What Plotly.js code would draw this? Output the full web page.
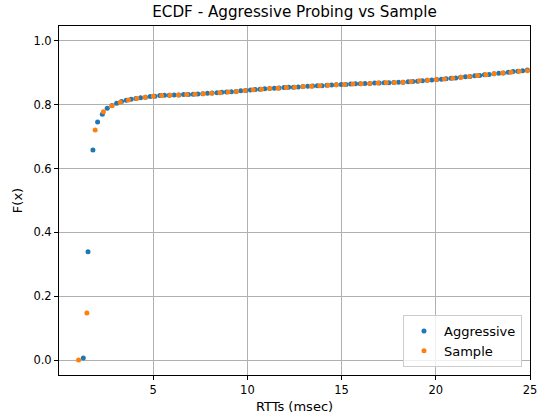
<!DOCTYPE html>
<html>
<head>
<meta charset="utf-8">
<script src="https://cdn.plot.ly/plotly-3.0.1.min.js"></script>
<style>html,body{margin:0;padding:0;background:#fff}#chart{width:544px;height:419px}</style>
</head>
<body>
<div id="chart"></div>
<script>
var aggressiveX = [1.29,1.54,1.80,2.05,2.30,2.56,2.81,3.06,3.32,3.57,3.83,4.08,4.33,4.59,4.84,5.09,5.35,5.60,5.85,6.11,6.36,6.61,6.87,7.12,7.37,7.63,7.88,8.13,8.39,8.64,8.89,9.15,9.40,9.65,9.91,10.16,10.42,10.67,10.92,11.18,11.43,11.68,11.94,12.19,12.44,12.70,12.95,13.20,13.46,13.71,13.96,14.22,14.47,14.72,14.98,15.23,15.48,15.74,15.99,16.24,16.50,16.75,17.00,17.26,17.51,17.77,18.02,18.27,18.53,18.78,19.03,19.29,19.54,19.79,20.05,20.30,20.55,20.81,21.06,21.31,21.57,21.82,22.07,22.33,22.58,22.83,23.09,23.34,23.59,23.85,24.10,24.35,24.61,24.86];
var aggressiveY = [0.006,0.339,0.658,0.746,0.770,0.789,0.798,0.805,0.810,0.814,0.817,0.820,0.822,0.824,0.826,0.827,0.829,0.830,0.830,0.831,0.831,0.832,0.832,0.833,0.834,0.835,0.836,0.837,0.838,0.839,0.840,0.841,0.842,0.844,0.845,0.846,0.848,0.849,0.850,0.851,0.852,0.853,0.854,0.855,0.855,0.856,0.857,0.858,0.859,0.860,0.860,0.861,0.862,0.863,0.864,0.864,0.865,0.866,0.866,0.867,0.867,0.868,0.868,0.869,0.869,0.870,0.871,0.871,0.872,0.873,0.874,0.875,0.877,0.878,0.879,0.880,0.882,0.883,0.884,0.886,0.888,0.889,0.891,0.892,0.894,0.895,0.897,0.899,0.900,0.902,0.904,0.905,0.907,0.909];
var sampleX = [1.04,1.48,1.92,2.36,2.81,3.25,3.69,4.13,4.57,5.01,5.45,5.89,6.34,6.78,7.22,7.66,8.10,8.54,8.98,9.42,9.87,10.31,10.75,11.19,11.63,12.07,12.51,12.96,13.40,13.84,14.28,14.72,15.16,15.60,16.04,16.49,16.93,17.37,17.81,18.25,18.69,19.13,19.57,20.02,20.46,20.90,21.34,21.78,22.22,22.66,23.10,23.55,23.99,24.43,24.87];
var sampleY = [0.000,0.147,0.721,0.778,0.797,0.808,0.815,0.820,0.824,0.827,0.829,0.830,0.831,0.832,0.833,0.835,0.836,0.838,0.840,0.842,0.845,0.847,0.849,0.851,0.852,0.854,0.855,0.857,0.858,0.860,0.861,0.863,0.864,0.865,0.866,0.867,0.868,0.869,0.870,0.871,0.873,0.875,0.877,0.879,0.881,0.883,0.886,0.889,0.892,0.894,0.897,0.900,0.902,0.905,0.907];
var seriesNames = ["Aggressive", "Sample"];
var xTicks = [5, 10, 15, 20, 25];
var yTicks = [0.0, 0.2, 0.4, 0.6, 0.8, 1.0];
var yTickLabels = ["0.0", "0.2", "0.4", "0.6", "0.8", "1.0"];

var font = "DejaVu Sans, sans-serif";
var traces = [
  {x: aggressiveX, y: aggressiveY, name: seriesNames[0], type: "scatter", mode: "markers",
   marker: {color: "#1f77b4", size: 5}},
  {x: sampleX, y: sampleY, name: seriesNames[1], type: "scatter", mode: "markers",
   marker: {color: "#ff7f0e", size: 5}}
];
var axisCommon = {
  showline: true, mirror: true, linecolor: "#000", linewidth: 1,
  ticks: "outside", ticklen: 4, tickwidth: 1, tickcolor: "#000",
  showgrid: true, gridcolor: "#b0b0b0", gridwidth: 1, zeroline: false,
  tickfont: {family: font, size: 11.5, color: "#000"}
};
var layout = {
  width: 544, height: 419,
  margin: {l: 59, r: 14, t: 26, b: 44},
  paper_bgcolor: "#fff", plot_bgcolor: "#fff",
  font: {family: font, color: "#000"},
  title: {text: "ECDF - Aggressive Probing vs Sample", font: {family: font, size: 15.2, color: "#000"},
          x: 0.5, xanchor: "center", y: 0.971, yanchor: "middle", xref: "paper"},
  xaxis: Object.assign({}, axisCommon, {
    range: [0, 25], tickvals: xTicks, ticktext: xTicks.map(String),
    title: {text: "RTTs (msec)", font: {family: font, size: 13, color: "#000"}, standoff: 6}
  }),
  yaxis: Object.assign({}, axisCommon, {
    range: [-0.047, 1.047], tickvals: yTicks, ticktext: yTickLabels,
    title: {text: "F(x)", font: {family: font, size: 13, color: "#000"}, standoff: 7}
  }),
  showlegend: true,
  legend: {x: 0.983, xanchor: "right", y: 0.023, yanchor: "bottom",
           bgcolor: "rgba(255,255,255,0.8)", bordercolor: "#cccccc", borderwidth: 1,
           font: {family: font, size: 13, color: "#000"}, tracegroupgap: 0}
};
Plotly.newPlot("chart", traces, layout, {staticPlot: true, displayModeBar: false});
</script>
</body>
</html>
